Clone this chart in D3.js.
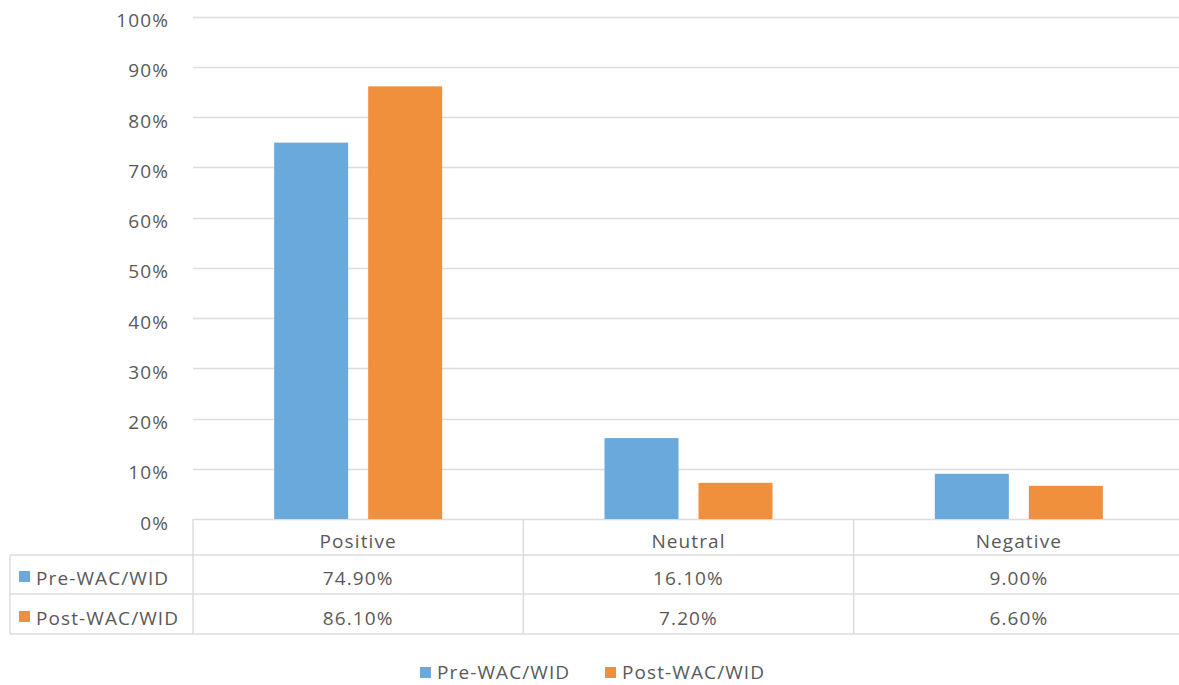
<!DOCTYPE html>
<html><head><meta charset="utf-8">
<script src="https://cdn.jsdelivr.net/npm/d3@7"></script>
<style>
html,body{margin:0;padding:0;background:#fff;}
text{font-family:"Open Sans",sans-serif;fill:#595959;}
</style></head>
<body><svg id="c" width="1179" height="685"></svg>
<script>
const categories = ["Positive", "Neutral", "Negative"];
const seriesNames = ["Pre-WAC/WID", "Post-WAC/WID"];
const preValues = [0.749, 0.161, 0.090];
const postValues = [0.861, 0.072, 0.066];
const preLabels = ["74.90%", "16.10%", "9.00%"];
const postLabels = ["86.10%", "7.20%", "6.60%"];
const yTicks = [0, 0.1, 0.2, 0.3, 0.4, 0.5, 0.6, 0.7, 0.8, 0.9, 1.0];
const colors = ["#6aa9dc", "#f0903c"];

const svg = d3.select("#c");
const W = 1179;
const grid = "#dcdcdc";
const FS = 19, LS = "1.1px";

const y = d3.scaleLinear().domain([0, 1]).range([519, 16.5]);
const x0 = d3.scaleBand().domain(categories).range([193, 1184]);
const groupW = 168;
const x1 = d3.scaleBand().domain(seriesNames)
  .range([(x0.bandwidth() - groupW) / 2, (x0.bandwidth() + groupW) / 2])
  .paddingInner(20 / 94).paddingOuter(0);

// gridlines
svg.append("g").selectAll("line").data(yTicks).join("line")
  .attr("x1", 193).attr("x2", W)
  .attr("y1", d => Math.round(y(d)) + 0.5).attr("y2", d => Math.round(y(d)) + 0.5)
  .attr("stroke", grid).attr("stroke-width", 1.5);

// y axis labels
const fmt = d3.format(".0%");
svg.append("g").selectAll("text").data(yTicks).join("text")
  .attr("x", 169).attr("y", d => y(d) + 4).attr("dy", "0.35em")
  .attr("text-anchor", "end").attr("font-size", FS).attr("letter-spacing", LS)
  .text(d => fmt(d));

// bars
const data = categories.map((c, i) => ({ c, vals: [preValues[i], postValues[i]] }));
const g = svg.append("g").selectAll("g").data(data).join("g")
  .attr("transform", d => `translate(${x0(d.c)},0)`);
g.selectAll("rect").data(d => d.vals.map((v, j) => ({ v, s: seriesNames[j], j })))
  .join("rect")
  .attr("x", d => x1(d.s)).attr("width", x1.bandwidth())
  .attr("y", d => y(d.v)).attr("height", d => y(0) - y(d.v))
  .attr("fill", d => colors[d.j]);

// data table
const tbl = svg.append("g");
[555, 594, 634].forEach(yy => {
  tbl.append("line").attr("x1", 10).attr("x2", W).attr("y1", yy).attr("y2", yy)
    .attr("stroke", grid).attr("stroke-width", 1.5);
});
categories.forEach(c => {
  tbl.append("line").attr("x1", x0(c)).attr("x2", x0(c)).attr("y1", 519).attr("y2", 634)
    .attr("stroke", grid).attr("stroke-width", 1.5);
});
tbl.append("line").attr("x1", 10).attr("x2", 10).attr("y1", 555).attr("y2", 634)
  .attr("stroke", grid).attr("stroke-width", 1.5);

const rowCenter = [541, 578, 618];
tbl.selectAll("text.h").data(categories).join("text").attr("class", "h")
  .attr("x", d => x0(d) + x0.bandwidth() / 2).attr("y", rowCenter[0]).attr("dy", "0.35em")
  .attr("text-anchor", "middle").attr("font-size", FS).attr("letter-spacing", LS)
  .text(d => d);
[preLabels, postLabels].forEach((labs, r) => {
  tbl.selectAll("text.r" + r).data(labs).join("text").attr("class", "r" + r)
    .attr("x", (d, i) => x0(categories[i]) + x0.bandwidth() / 2).attr("y", rowCenter[r + 1])
    .attr("dy", "0.35em").attr("text-anchor", "middle").attr("font-size", FS)
    .attr("letter-spacing", LS).text(d => d);
  tbl.append("rect").attr("x", 19).attr("y", rowCenter[r + 1] - 7).attr("width", 11).attr("height", 11)
    .attr("fill", colors[r]);
  tbl.append("text").attr("x", 36).attr("y", rowCenter[r + 1]).attr("dy", "0.35em")
    .attr("font-size", FS).attr("letter-spacing", LS).text(seriesNames[r]);
});

// legend
const legX = [420, 605];
const leg = svg.append("g");
seriesNames.forEach((s, i) => {
  leg.append("rect").attr("x", legX[i]).attr("y", 667).attr("width", 11).attr("height", 11)
    .attr("fill", colors[i]);
  leg.append("text").attr("x", legX[i] + 17).attr("y", 672).attr("dy", "0.35em")
    .attr("font-size", FS).attr("letter-spacing", LS).text(s);
});
</script></body></html>
